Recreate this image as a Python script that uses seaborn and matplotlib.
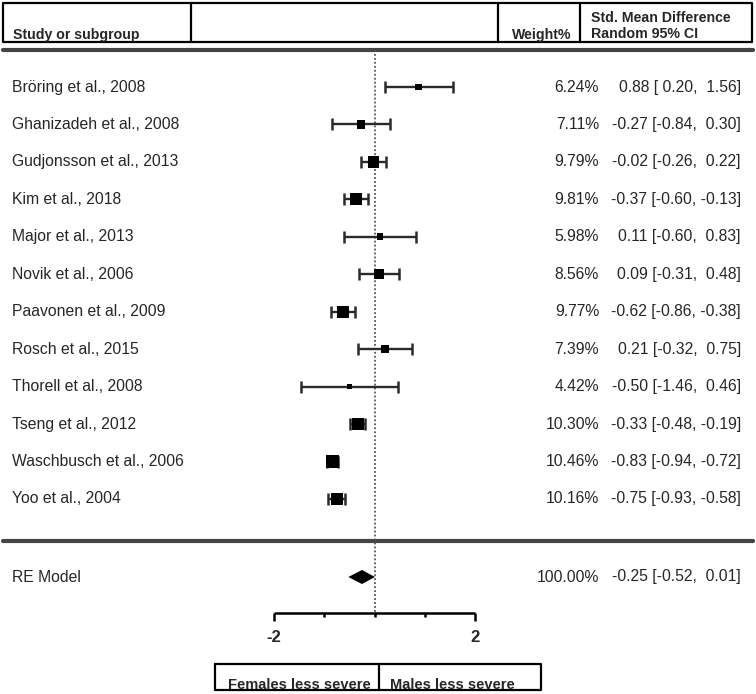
import numpy as np
import pandas as pd
import matplotlib
matplotlib.use("Agg")
import matplotlib.pyplot as plt
import seaborn as sns

studies = ["Bröring et al., 2008", "Ghanizadeh et al., 2008", "Gudjonsson et al., 2013",
           "Kim et al., 2018", "Major et al., 2013", "Novik et al., 2006",
           "Paavonen et al., 2009", "Rosch et al., 2015", "Thorell et al., 2008",
           "Tseng et al., 2012", "Waschbusch et al., 2006", "Yoo et al., 2004"]
weights = [6.24, 7.11, 9.79, 9.81, 5.98, 8.56, 9.77, 7.39, 4.42, 10.30, 10.46, 10.16]
smd = [0.88, -0.27, -0.02, -0.37, 0.11, 0.09, -0.62, 0.21, -0.50, -0.33, -0.83, -0.75]
ci_lo = [0.20, -0.84, -0.26, -0.60, -0.60, -0.31, -0.86, -0.32, -1.46, -0.48, -0.94, -0.93]
ci_hi = [1.56, 0.30, 0.22, -0.13, 0.83, 0.48, -0.38, 0.75, 0.46, -0.19, -0.72, -0.58]
re_est, re_lo, re_hi = -0.25, -0.52, 0.01
x_ticks = [-2, -1, 0, 1, 2]

W, H = 756, 694
sns.set_style("white")
plt.rcParams["font.family"] = ["Liberation Sans", "DejaVu Sans"]

df = pd.DataFrame({"study": studies, "w": weights, "smd": smd, "lo": ci_lo, "hi": ci_hi})
df["y"] = 87 + 37.45 * np.arange(len(df))
side_px = 4.5 + (df["w"] - min(weights)) * 1.35
df["area"] = (side_px * 0.72) ** 2

fig = plt.figure(figsize=(W / 100, H / 100), dpi=100)

# layout axes in pixel units
lay = fig.add_axes([0, 0, 1, 1])
lay.set_xlim(0, W)
lay.set_ylim(H, 0)
lay.axis("off")

# forest axes: x in effect units, -2 -> 274px, 2 -> 475px
ax = fig.add_axes([0, 0, 1, 1])
ppu = (475 - 274) / 4
x0 = 374.5
ax.set_xlim((0 - x0) / ppu, (W - x0) / ppu)
ax.set_ylim(H, 0)
ax.axis("off")

# header box
lay.plot([3, 752, 752, 3, 3], [3, 3, 42, 42, 3], color="black", lw=1.6)
for xd in [191, 498, 580]:
    lay.plot([xd, xd], [3, 42], color="black", lw=1.6)
lay.plot([3, 753], [50, 50], color="#444", lw=3)
lay.plot([3, 753], [541, 541], color="#444", lw=3)

hdr = dict(fontsize=10.2, fontweight="bold", va="baseline")
lay.text(13, 39, "Study or subgroup", ha="left", **hdr)
lay.text(571, 39, "Weight%", ha="right", **hdr)
lay.text(591, 22, "Std. Mean Difference", ha="left", **hdr)
lay.text(591, 38, "Random 95% CI", ha="left", **hdr)

# zero line
ax.vlines(0, 50, 612, colors="#555", linestyles=(0, (1, 1.2)), lw=1.3)

# study rows
ax.errorbar(df["smd"], df["y"], xerr=[df["smd"] - df["lo"], df["hi"] - df["smd"]],
            fmt="none", ecolor="#2a2a2a", elinewidth=1.7, capsize=4, capthick=1.8)
sns.scatterplot(data=df, x="smd", y="y", size="area", sizes=(df["area"].min(), df["area"].max()),
                size_norm=(df["area"].min(), df["area"].max()), marker="s", color="black",
                linewidth=0, legend=False, ax=ax, zorder=3)

row = dict(fontsize=11.3, va="center")
for _, r in df.iterrows():
    lay.text(12, r["y"], r["study"], ha="left", **row)
    lay.text(599, r["y"], f"{r['w']:.2f}%", ha="right", **row)
    lay.text(741, r["y"], f"{r['smd']:.2f} [{r['lo']:5.2f}, {r['hi']:5.2f}]", ha="right", **row)

# RE model
y_re = 577
ax.fill([re_lo, re_est, re_hi, re_est], [y_re, y_re - 7, y_re, y_re + 7], color="black", lw=0)
lay.text(12, y_re, "RE Model", ha="left", **row)
lay.text(599, y_re, f"{100:.2f}%", ha="right", **row)
lay.text(741, y_re, f"{re_est:.2f} [{re_lo:5.2f}, {re_hi:5.2f}]", ha="right", **row)

# x axis
y_ax = 613
ax.hlines(y_ax, x_ticks[0], x_ticks[-1], colors="black", lw=1.8)
for t in x_ticks:
    end = t in (x_ticks[0], x_ticks[-1])
    ax.vlines(t, y_ax, y_ax + (8 if end else 4), colors="black", lw=1.8)
    if end:
        ax.text(t, 637, f"{t}", ha="center", va="center", fontsize=12, fontweight="bold")

# direction labels box
lay.plot([215, 541, 541, 215, 215], [664, 664, 690, 690, 664], color="black", lw=1.6)
lay.plot([379, 379], [664, 690], color="black", lw=1.6)
lay.text(228, 689, "Females less severe", ha="left", va="baseline", fontsize=10.5, fontweight="bold")
lay.text(390, 689, "Males less severe", ha="left", va="baseline", fontsize=10.5, fontweight="bold")

fig.savefig("out.png", dpi=100)
